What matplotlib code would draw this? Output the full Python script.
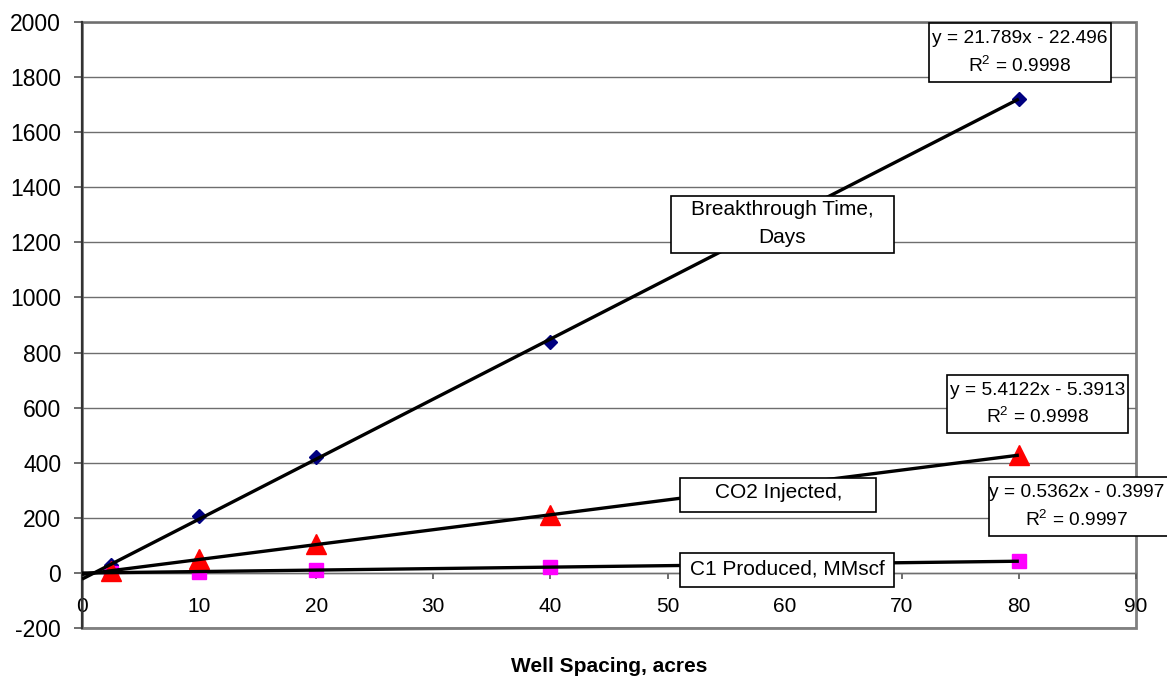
import numpy as np
import matplotlib.pyplot as plt
from matplotlib.patches import Rectangle

plt.rcParams['font.family'] = ['Liberation Sans', 'DejaVu Sans']
plt.rcParams['axes.unicode_minus'] = False

spacing = [2.5, 10, 20, 40, 80]
breakthrough_days = [30, 207, 420, 840, 1722]
co2_injected = [6, 50, 105, 210, 428]
c1_produced = [1, 5, 11, 21, 43]

# linear trendline coefficients (slope, intercept, R^2)
fit_bt = (21.789, -22.496, 0.9998)
fit_co2 = (5.4122, -5.3913, 0.9998)
fit_c1 = (0.5362, -0.3997, 0.9997)

fig = plt.figure(figsize=(11.67, 6.81), dpi=100)
ax = fig.add_axes([0.0703, 0.0778, 0.9031, 0.8899])

ax.set_xlim(0, 90)
ax.set_ylim(-200, 2000)
ax.set_xticks(np.arange(0, 91, 10))
ax.set_yticks(np.arange(-200, 2001, 200))
ax.yaxis.grid(True, color='#6e6e6e', linewidth=1.0)
ax.set_axisbelow(True)

for s in ['top', 'right']:
    ax.spines[s].set_visible(False)
ax.spines['bottom'].set_position(('data', 0))
ax.spines['bottom'].set_color('#6e6e6e')
ax.spines['bottom'].set_linewidth(1.0)
ax.spines['left'].set_color('#333333')
ax.spines['left'].set_linewidth(1.6)
ax.add_patch(Rectangle((0, 0), 1, 1, transform=ax.transAxes, fill=False,
                       edgecolor='#808080', linewidth=2.0, clip_on=False, zorder=0.5))

ax.tick_params(axis='y', direction='out', length=6, width=1.2, pad=9,
               labelsize=16.5, color='#555555')
ax.tick_params(axis='x', direction='out', length=4.5, width=1.2, pad=12.5,
               labelsize=15, color='#555555')

ax.plot(spacing, breakthrough_days, linestyle='none', marker='D', ms=6.8,
        color='#000080', zorder=3)
ax.plot(spacing, c1_produced, linestyle='none', marker='s', ms=10.5,
        color='#ff00ff', zorder=3)
ax.plot(spacing, co2_injected, linestyle='none', marker='^', ms=14,
        color='#ff0000', zorder=3)

xl = np.array([0, 80])
for m, b, _ in (fit_bt, fit_co2, fit_c1):
    ax.plot(xl, m * xl + b, color='black', linewidth=2.4, zorder=4,
            solid_capstyle='butt')


def label_box(x0, x1, y0, y1, clip=False):
    r = Rectangle((x0, y0), x1 - x0, y1 - y0, facecolor='white',
                  edgecolor='black', linewidth=1.2, zorder=5, clip_on=clip)
    ax.add_patch(r)
    return r


# series labels
label_box(50.29, 69.34, 1162, 1369)
ax.text(59.8, 1318, 'Breakthrough Time,', ha='center', va='center',
        fontsize=15, zorder=6)
ax.text(59.8, 1218, 'Days', ha='center', va='center', fontsize=15, zorder=6)

# this box is too short for its two lines, the second one is cut off
r = label_box(51.06, 67.8, 221.5, 345)
for txt, yy in (('CO2 Injected,', 293), ('MMscf', 186)):
    t = ax.text(59.5, yy, txt, ha='center', va='center', fontsize=15, zorder=6,
                clip_on=True)
    t.set_clip_path(r)

label_box(51.1, 69.36, -49.7, 71.5)
ax.text(60.2, 15, 'C1 Produced, MMscf', ha='center', va='center',
        fontsize=15, zorder=6)

# trendline equations
eq_boxes = [(fit_bt, 72.32, 87.87, 1782.5, 1996.7),
            (fit_co2, 73.86, 89.32, 508.3, 718.8),
            (fit_c1, 77.45, 93.0, 134.3, 348.5)]
for (m, b, r2), x0, x1, y0, y1 in eq_boxes:
    label_box(x0, x1, y0, y1)
    xc = x0 + (x1 - x0) / 2 if x1 <= 90 else x0 + 7.45
    yc = (y0 + y1) / 2
    ax.text(xc, yc + 49, 'y = %gx - %g' % (m, -b), ha='center', va='center',
            fontsize=13.8, zorder=6, clip_on=False)
    ax.text(xc, yc - 49, '$\\mathregular{R^2}$ = %.4f' % r2, ha='center',
            va='center', fontsize=13.8, zorder=6, clip_on=False)

fig.text(0.522, 0.021, 'Well Spacing, acres', ha='center', va='center',
         fontsize=15, fontweight='bold')

fig.savefig('out.png', dpi=100)
